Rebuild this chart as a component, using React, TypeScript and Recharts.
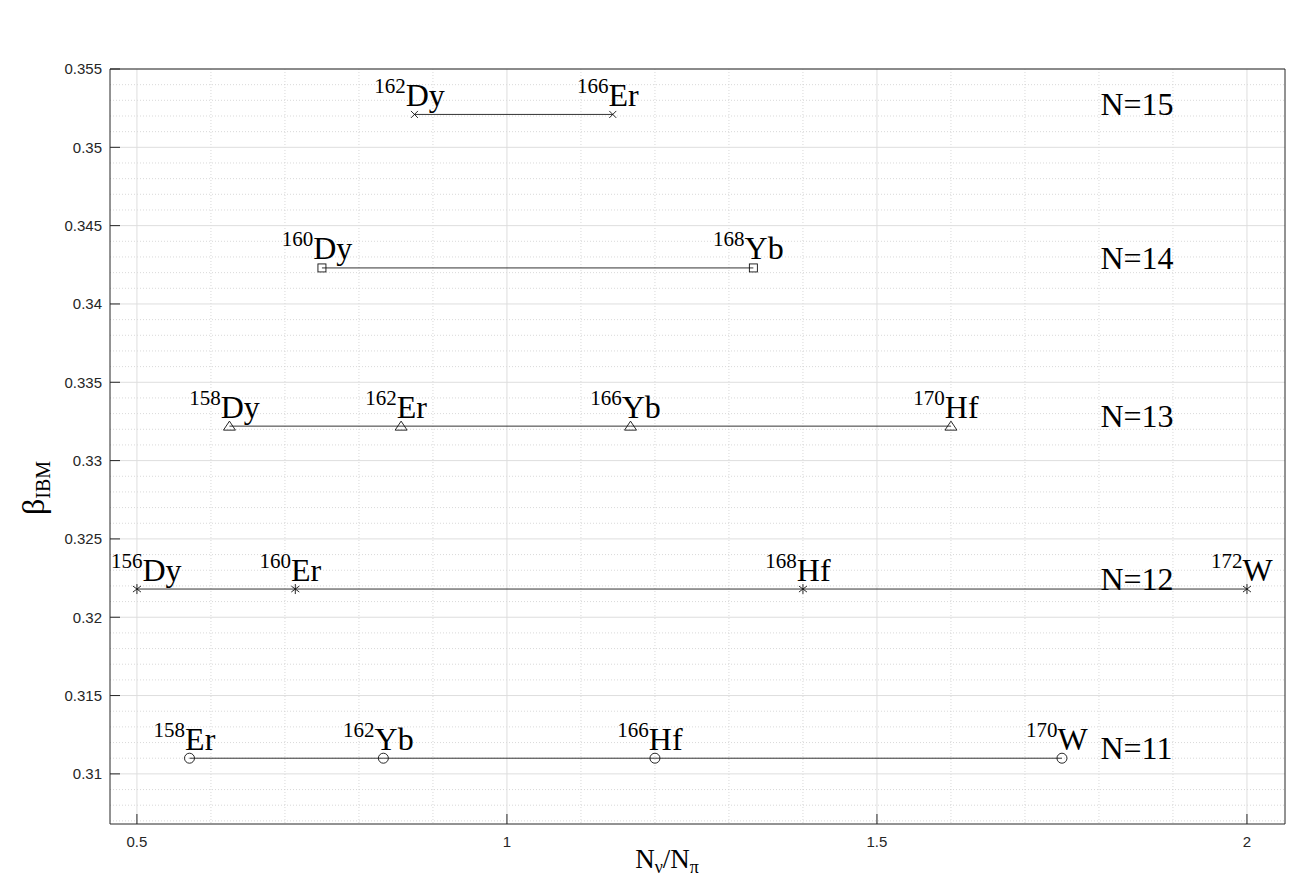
import React from 'react';
import { ScatterChart, Scatter, XAxis, YAxis, CartesianGrid } from 'recharts';

// one horizontal row per boson number N
const groupNames = ['N=15', 'N=14', 'N=13', 'N=12', 'N=11'];
const betaValues = [0.3521, 0.3423, 0.3322, 0.3218, 0.311];

// N_nu / N_pi of each nucleus in a row
const ratioN15 = [0.875, 1.143];
const ratioN14 = [0.75, 1.333];
const ratioN13 = [0.625, 0.857, 1.167, 1.6];
const ratioN12 = [0.5, 0.714, 1.4, 2.0];
const ratioN11 = [0.571, 0.833, 1.2, 1.75];

// [mass number, element]
const nucleiN15 = [['162', 'Dy'], ['166', 'Er']];
const nucleiN14 = [['160', 'Dy'], ['168', 'Yb']];
const nucleiN13 = [['158', 'Dy'], ['162', 'Er'], ['166', 'Yb'], ['170', 'Hf']];
const nucleiN12 = [['156', 'Dy'], ['160', 'Er'], ['168', 'Hf'], ['172', 'W']];
const nucleiN11 = [['158', 'Er'], ['162', 'Yb'], ['166', 'Hf'], ['170', 'W']];

const xTicks = [0.5, 1, 1.5, 2];
const xMinor = [0.6, 0.7, 0.8, 0.9, 1.1, 1.2, 1.3, 1.4, 1.6, 1.7, 1.8, 1.9];
const yTicks = [0.31, 0.315, 0.32, 0.325, 0.33, 0.335, 0.34, 0.345, 0.35, 0.355];
const yMinor = [
  0.307, 0.308, 0.309, 0.311, 0.312, 0.313, 0.314, 0.316, 0.317, 0.318, 0.319,
  0.321, 0.322, 0.323, 0.324, 0.326, 0.327, 0.328, 0.329, 0.331, 0.332, 0.333,
  0.334, 0.336, 0.337, 0.338, 0.339, 0.341, 0.342, 0.343, 0.344, 0.346, 0.347,
  0.348, 0.349, 0.351, 0.352, 0.353, 0.354,
];

const ratios = [ratioN15, ratioN14, ratioN13, ratioN12, ratioN11];
const nuclei = [nucleiN15, nucleiN14, nucleiN13, nucleiN12, nucleiN11];
const markers = ['cross', 'square', 'triangle', 'asterisk', 'circle'];

const SERIF = '"Liberation Serif", "Times New Roman", serif';
const SANS = '"Liberation Sans", Arial, sans-serif';
const INK = '#262626';
const PLOT_LEFT = 110;
const SUP_SIZE = 21;
const MAIN_SIZE = 32;

// rough Times advance widths (em) to keep labels inside the axes box
const charWidth: Record<string, number> = {
  D: 0.722, y: 0.5, E: 0.611, r: 0.333, Y: 0.722, b: 0.5, H: 0.722, f: 0.333, W: 0.944,
};

const groups = groupNames.map((name, g) => ({
  name,
  marker: markers[g],
  points: ratios[g].map((x, i) => ({
    x,
    y: betaValues[g],
    mass: nuclei[g][i][0],
    symbol: nuclei[g][i][1],
  })),
}));

const GROUP_LABEL_X = 1.802;
const groupLabelData = groupNames.map((label, g) => ({ x: GROUP_LABEL_X, y: betaValues[g], label }));

const Marker = ({ type, cx, cy }: { type: string; cx: number; cy: number }) => {
  const s = { stroke: '#111', strokeWidth: 0.9, fill: 'none' };
  switch (type) {
    case 'cross':
      return (
        <g {...s}>
          <line x1={cx - 3.5} y1={cy - 3.5} x2={cx + 3.5} y2={cy + 3.5} />
          <line x1={cx - 3.5} y1={cy + 3.5} x2={cx + 3.5} y2={cy - 3.5} />
        </g>
      );
    case 'square':
      return <rect x={cx - 4} y={cy - 4} width={8} height={8} {...s} />;
    case 'triangle':
      return <polygon points={`${cx},${cy - 5} ${cx - 6},${cy + 4} ${cx + 6},${cy + 4}`} {...s} />;
    case 'asterisk':
      return (
        <g {...s}>
          <line x1={cx} y1={cy - 5} x2={cx} y2={cy + 5} />
          <line x1={cx - 4} y1={cy - 3} x2={cx + 4} y2={cy + 3} />
          <line x1={cx - 4} y1={cy + 3} x2={cx + 4} y2={cy - 3} />
        </g>
      );
    default:
      return <circle cx={cx} cy={cy} r={5} {...s} />;
  }
};

const makeShape = (marker: string) => (props: any) => {
  const { cx, cy, payload } = props;
  const w =
    payload.mass.length * 0.5 * SUP_SIZE +
    payload.symbol.split('').reduce((acc: number, c: string) => acc + (charWidth[c] || 0.6) * MAIN_SIZE, 0);
  const left = Math.max(cx - 5 - w / 2, PLOT_LEFT + 1);
  return (
    <g>
      <Marker type={marker} cx={cx} cy={cy} />
      <text x={left} y={cy - 8.5} fontFamily={SERIF} fill="#000">
        <tspan fontSize={SUP_SIZE} dy={-13}>{payload.mass}</tspan>
        <tspan fontSize={MAIN_SIZE} dy={13}>{payload.symbol}</tspan>
      </text>
    </g>
  );
};

const groupLabelShape = (props: any) => (
  <text x={props.cx} y={props.cy + 1} fontFamily={SERIF} fontSize={32} fill="#000">
    {props.payload.label}
  </text>
);

const YLabel = () => (
  <text x={44} y={488} transform="rotate(-90 44 488)" textAnchor="middle" fontFamily={SERIF} fill="#000">
    <tspan fontSize={32}>β</tspan>
    <tspan fontSize={20} dy={6}>IBM</tspan>
  </text>
);

const XLabel = () => (
  <text x={667} y={868} textAnchor="middle" fontFamily={SERIF} fill="#000">
    <tspan fontSize={27}>N</tspan>
    <tspan fontSize={18} dy={5}>ν</tspan>
    <tspan fontSize={27} dy={-5}>/N</tspan>
    <tspan fontSize={18} dy={5}>π</tspan>
  </text>
);

const X_DOMAIN = [0.4636, 2.0514];
const Y_DOMAIN = [0.3068, 0.355];

const App = () => {
  const tickStyle = { fontSize: 15, fontFamily: SANS, fill: INK };
  return (
    <div style={{ position: 'absolute', left: 0, top: 0, width: 1312, height: 882, background: '#fff' }}>
      <ScatterChart width={1312} height={882} margin={{ top: 68, right: 26, bottom: 0, left: 0 }}>
        <CartesianGrid
          verticalValues={xMinor}
          horizontalValues={yMinor}
          stroke="#cfcfcf"
          strokeDasharray="1 2"
          strokeWidth={0.8}
        />
        <CartesianGrid verticalValues={xTicks} horizontalValues={yTicks} stroke="#dedede" strokeWidth={1} />
        <XAxis
          type="number"
          dataKey="x"
          domain={X_DOMAIN}
          allowDataOverflow
          ticks={xTicks}
          interval={0}
          height={58}
          tickSize={-10}
          tickMargin={22}
          tick={tickStyle}
          stroke={INK}
          label={<XLabel />}
        />
        <XAxis
          xAxisId="top"
          orientation="top"
          type="number"
          domain={X_DOMAIN}
          allowDataOverflow
          ticks={xTicks}
          interval={0}
          height={1}
          tickSize={-10}
          tick={false}
          stroke={INK}
        />
        <YAxis
          type="number"
          dataKey="y"
          domain={Y_DOMAIN}
          allowDataOverflow
          ticks={yTicks}
          interval={0}
          width={110}
          tickSize={-10}
          tickMargin={18}
          tick={tickStyle}
          tickFormatter={(v: number) => String(v)}
          stroke={INK}
          label={<YLabel />}
        />
        <YAxis
          yAxisId="right"
          orientation="right"
          type="number"
          domain={Y_DOMAIN}
          allowDataOverflow
          ticks={yTicks}
          interval={0}
          width={1}
          tickSize={-10}
          tick={false}
          stroke={INK}
        />
        {groups.map((grp) => (
          <Scatter
            key={grp.name}
            name={grp.name}
            data={grp.points}
            line={{ stroke: '#333', strokeWidth: 1 }}
            shape={makeShape(grp.marker)}
            isAnimationActive={false}
          />
        ))}
        <Scatter data={groupLabelData} shape={groupLabelShape} isAnimationActive={false} />
      </ScatterChart>
    </div>
  );
};

export default App;
